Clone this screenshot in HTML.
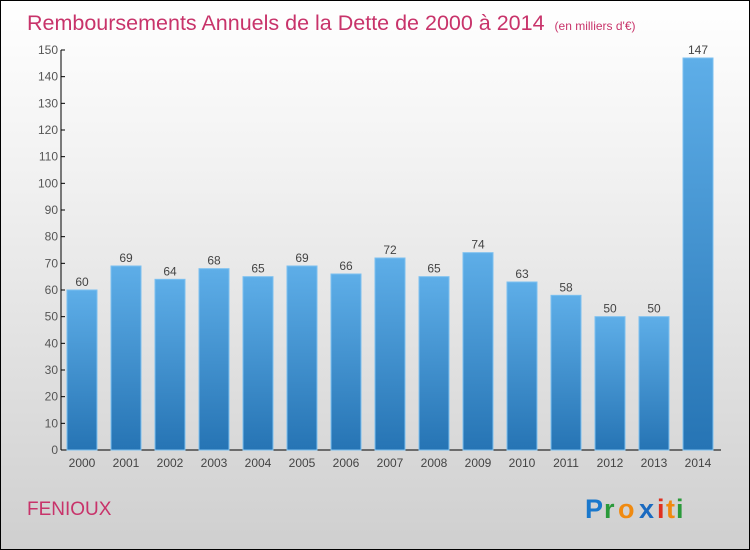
<!DOCTYPE html>
<html><head><meta charset="utf-8"><style>
body{margin:0}
#c{width:748px;height:548px;border:1px solid #000;background:linear-gradient(#fff,#f2f2f2 30%,#cfcfcf);position:relative;font-family:"Liberation Sans",sans-serif;overflow:hidden}
</style></head><body>
<div id="c">
<svg width="748" height="548" xmlns="http://www.w3.org/2000/svg" font-family="Liberation Sans, sans-serif">
<defs><linearGradient id="g" x1="0" y1="0" x2="0" y2="1"><stop offset="0" stop-color="#5eaee8"/><stop offset="1" stop-color="#2674b4"/></linearGradient></defs>
<text x="26" y="29" font-size="21.5" fill="#c8336a">Remboursements Annuels de la Dette de 2000 à 2014 <tspan font-size="12" dx="4">(en milliers d'€)</tspan></text>
<g id="plot"></g>
<text x="26" y="514" font-size="19" fill="#c8336a">FENIOUX</text>
<g font-size="27" font-weight="bold">
<text x="584" y="517" fill="#1a78cc">P</text><text x="603" y="517" fill="#2a9a3a">r</text><text x="617" y="517" fill="#f08a10">o</text><text x="638" y="517" fill="#1a6ac0">x</text><text x="656" y="517" fill="#e03020">i</text><text x="665" y="517" fill="#f08a10">t</text><text x="675" y="517" fill="#2a9a3a">i</text></g>
</svg></div>
<script>
const categories=["2000","2001","2002","2003","2004","2005","2006","2007","2008","2009","2010","2011","2012","2013","2014"];
const values=[60,69,64,68,65,69,66,72,65,74,63,58,50,50,147];
const ticks=[0,10,20,30,40,50,60,70,80,90,100,110,120,130,140,150];
const NS="http://www.w3.org/2000/svg",p=document.getElementById("plot");
const y=v=>449-v*400/150, x=i=>81+44*i;
function mk(t,a,txt){const e=document.createElementNS(NS,t);for(const k in a)e.setAttribute(k,a[k]);if(txt!==undefined)e.textContent=txt;p.appendChild(e);return e;}
const ya=mk("line",{x1:60,x2:60,y1:y(150),y2:449,stroke:"#000"});


const xa=mk("line",{x1:60,x2:720,y1:449,y2:449,stroke:"#000"});


ticks.forEach(t=>{
 const l=mk("line",{x1:60,x2:64,y1:y(t),y2:y(t),stroke:"#000"});
 
 
 const tx=mk("text",{x:57,y:y(t)+4,"text-anchor":"end","font-size":12,fill:"#555"},t);
 
 
});
categories.forEach((c,i)=>{
 const r=mk("rect",{x:x(i)-15,y:y(values[i]),width:30,height:449-y(values[i]),fill:"url(#g)",stroke:"#7cc0f0","stroke-width":1});
 
 
 const v=mk("text",{x:x(i),y:y(values[i])-4,"text-anchor":"middle","font-size":12,fill:"#444"},values[i]);
 
 
 const t=mk("text",{x:x(i),y:466,"text-anchor":"middle","font-size":12,fill:"#444"},c);
 
 
});
</script>
</body></html>
